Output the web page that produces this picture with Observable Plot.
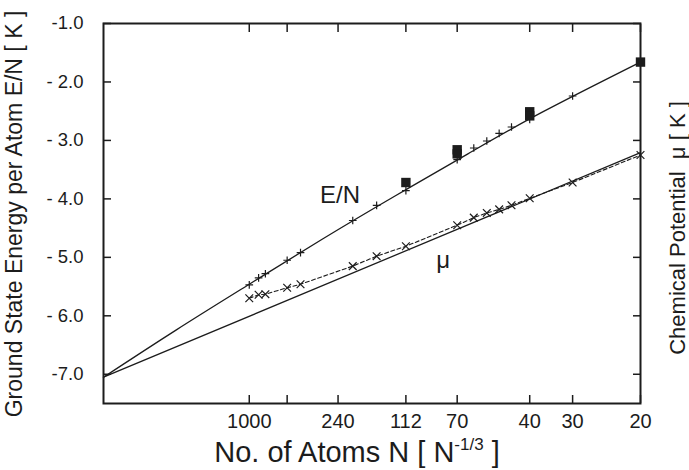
<!DOCTYPE html>
<html><head><meta charset="utf-8">
<script src="https://cdn.jsdelivr.net/npm/d3@7"></script>
<script src="https://cdn.jsdelivr.net/npm/@observablehq/plot@0.6"></script>
<style>html,body{margin:0;padding:0;background:#fff} svg{display:block}</style>
</head><body><div id="chart"></div>
<script>
// ---- data ----
const xTickN = [1000, 500, 240, 112, 70, 40, 30, 20];
const xTickLabels = ["1000", "", "240", "112", "70", "40", "30", "20"];
const yTicks = [-1, -2, -3, -4, -5, -6, -7];
const yTickLabels = ["-1.0", "- 2.0", "- 3.0", "- 4.0", "- 5.0", "- 6.0", "-7.0"];

// E/N (plus markers)
const enN = [1000, 830, 730, 500, 405, 200, 152, 112, 70, 61, 55, 50, 45.6, 40, 30];
const enE = [-5.47, -5.35, -5.28, -5.05, -4.92, -4.37, -4.11, -3.86, -3.33, -3.13, -3.01, -2.88, -2.77, -2.64, -2.24];
// filled squares
const sqN = [112, 70, 70, 40, 40, 20];
const sqE = [-3.72, -3.16, -3.23, -2.51, -2.58, -1.66];
// chemical potential (times markers, dashed)
const muN = [1000, 830, 730, 500, 405, 200, 152, 112, 70, 61, 55, 50, 45.6, 40, 30, 20];
const muV = [-5.70, -5.64, -5.63, -5.52, -5.46, -5.15, -4.98, -4.81, -4.45, -4.32, -4.24, -4.18, -4.11, -3.99, -3.72, -3.25];
// fitted curves, read at N^(-1/3)
const enFitX = [0, 0.05, 0.1, 0.15, 0.2, 0.25, 0.3, 0.3684];
const enFitE = [-7.05, -6.24, -5.46, -4.69, -3.95, -3.23, -2.53, -1.66];
const muFitX = [0, 0.3684];
const muFitV = [-7.05, -3.21];
// in-plot labels
const labelText = ["E/N", "μ"];
const labelN = [234, 79];
const labelY = [-3.94, -5.05];

// ---- build ----
const X = n => Math.pow(n, -1 / 3);
const xMax = X(20);
const xTickVals = xTickN.map(X);
const xLab = new Map(xTickVals.map((v, i) => [v, xTickLabels[i]]));
const yLab = new Map(yTicks.map((v, i) => [v, yTickLabels[i]]));

const en = enN.map((n, i) => ({x: X(n), y: enE[i]}));
const sq = sqN.map((n, i) => ({x: X(n), y: sqE[i]}));
const mu = muN.map((n, i) => ({x: X(n), y: muV[i]}));
const enFit = enFitX.map((x, i) => ({x, y: enFitE[i]}));
const muFit = muFitX.map((x, i) => ({x, y: muFitV[i]}));
const labels = labelText.map((t, i) => ({t, x: X(labelN[i]), y: labelY[i]}));

const ink = "#1c1c1c";
const font = "'Liberation Sans', Arial, Helvetica, sans-serif";

const plot = Plot.plot({
  width: 689, height: 470,
  marginLeft: 103, marginRight: 49, marginTop: 23, marginBottom: 67,
  style: {fontFamily: font, background: "#fff", color: ink},
  x: {domain: [0, xMax]},
  y: {domain: [-7.5, -1.0]},
  marks: [
    Plot.line(enFit, {x: "x", y: "y", curve: "natural", stroke: ink, strokeWidth: 1.3}),
    Plot.line(muFit, {x: "x", y: "y", stroke: ink, strokeWidth: 1.3}),
    Plot.line(mu, {x: "x", y: "y", stroke: ink, strokeWidth: 1.1, strokeDasharray: "4,2.5"}),
    Plot.dot(en, {x: "x", y: "y", symbol: "plus", r: 2.6, stroke: ink, fill: "none", strokeWidth: 1.2}),
    Plot.dot(mu, {x: "x", y: "y", symbol: "times", r: 3.6, stroke: ink, fill: "none", strokeWidth: 1.2}),
    Plot.dot(sq, {x: "x", y: "y", symbol: "square", r: 5.3, fill: ink, stroke: "none"}),
    Plot.text(labels, {x: "x", y: "y", text: "t", fontSize: 24, fill: ink}),
    Plot.frame({stroke: ink, strokeWidth: 2}),
    Plot.axisX({ticks: xTickVals, anchor: "bottom", tickSize: -8, tickFormat: () => "", label: null, strokeWidth: 1.5}),
    Plot.axisX({ticks: xTickVals, anchor: "top", tickSize: -8, tickFormat: () => "", label: null, strokeWidth: 1.5}),
    Plot.axisY({ticks: yTicks, anchor: "left", tickSize: -8, tickFormat: () => "", label: null, strokeWidth: 1.5}),
    Plot.axisY({ticks: yTicks, anchor: "right", tickSize: -8, tickFormat: () => "", label: null, strokeWidth: 1.5}),
    Plot.axisX({ticks: xTickVals, anchor: "bottom", tickSize: 0, tickPadding: 10, tickFormat: d => xLab.get(d), fontSize: 20, label: null, fill: ink}),
    Plot.axisY({ticks: yTicks, anchor: "left", tickSize: 0, tickPadding: 20, tickFormat: d => yLab.get(d), fontSize: 18.5, label: null, fill: ink})
  ]
});
document.getElementById("chart").appendChild(plot);

// ---- titles ----
const svg = d3.select(plot);
const xt = svg.append("text").attr("x", 357).attr("y", 462).attr("text-anchor", "middle")
  .attr("font-size", 29).attr("font-family", font).attr("fill", ink);
xt.append("tspan").text("No. of Atoms N [ N");
xt.append("tspan").attr("font-size", 17).attr("dy", -12).text("-1/3");
xt.append("tspan").attr("dy", 12).text(" ]");

svg.append("text").attr("transform", "translate(22,214) rotate(-90)").attr("text-anchor", "middle")
  .attr("font-size", 23).attr("font-family", font).attr("fill", ink)
  .text("Ground State Energy per Atom E/N [ K ]");

svg.append("text").attr("transform", "translate(685,228) rotate(-90)").attr("text-anchor", "middle")
  .attr("font-size", 22).attr("font-family", font).attr("fill", ink)
  .text("Chemical Potential  μ [ K ]");
</script>
</body></html>
